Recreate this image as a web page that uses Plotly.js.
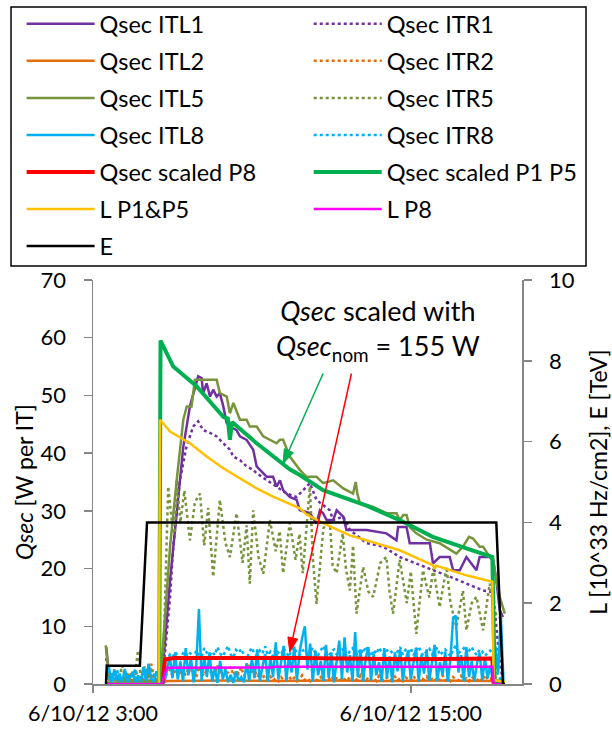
<!DOCTYPE html>
<html>
<head>
<meta charset="utf-8">
<script src="https://cdn.plot.ly/plotly-3.0.1.min.js"></script>
<style>html,body{margin:0;padding:0;background:#fff;}#chart{width:612px;height:729px;}</style>
</head>
<body>
<div id="chart"></div>
<script>
// ---------- DATA (hours of 6/10/12, values) ----------
const DAY = '2012-06-10';
const xTickVals = ['2012-06-10 03:00', '2012-06-10 15:00'];
const xTickText = ['6/10/12 3:00', '6/10/12 15:00'];

// Qsec ITL1 [W per IT]
const tITL1 = [3.50,3.56,3.62,4.50,5.50,5.65,5.91,6.16,6.41,6.66,6.91,6.97,7.10,7.16,7.29,7.42,7.54,7.67,7.79,7.92,8.05,8.17,8.42,8.55,8.80,9.05,9.18,9.30,9.56,9.80,9.93,10.06,10.18,10.43,10.69,10.81,11.19,11.44,11.57,11.69,11.82,11.94,12.07,12.20,12.45,12.57,13.33,14.08,14.46,14.52,14.84,14.96,15.72,15.84,16.09,16.47,16.60,16.85,17.10,17.48,17.60,17.98,18.11,18.23,18.36,18.48];
const vITL1 = [6.4,3.6,0.8,0.6,0.5,3.5,18,29.6,41.1,48.1,52.7,53.3,53.0,50.4,52.1,49.8,51.0,49.8,50.4,48.1,45.2,44.6,44.0,42.9,42.3,40.6,37.7,37.1,35.9,35.9,34.2,35.3,33.6,32.4,31.9,30.1,29.6,27.8,30.1,29.6,28.4,28.4,28.4,30.1,29.0,26.7,26.7,26.1,24.9,27.2,27.2,24.4,24.4,20.9,22.0,22.0,19.7,19.7,22.0,19.7,22.0,22.0,21.5,18.0,12.8,11.6];

// Qsec ITR1
const tITR1 = [3.50,3.58,4.50,5.55,5.65,5.91,6.03,6.28,6.53,6.78,6.97,7.16,7.42,7.67,7.92,8.17,8.30,8.55,8.80,9.05,9.18,9.55,9.93,10.31,10.69,11.19,11.44,11.94,12.07,12.45,12.70,13.33,13.96,14.58,15.21,15.84,16.47,17.10,17.73,18.11,18.36,18.48];
const vITR1 = [4.5,1.0,0.5,0.5,2.0,15.0,23.8,35.3,41.1,44.6,45.5,44.0,43.5,42.9,41.7,40.6,39.4,38.8,37.7,37.1,36.5,35.3,34.2,33.0,32.4,34.8,31.9,30.1,28.4,29.0,26.7,24.4,23.8,22.0,20.9,19.7,18.6,17.4,16.2,15.9,3.6,0.6];

// Qsec ITL2
const tITL2 = [3.50,5.60,5.80,8.00,10.00,12.00,14.00,16.00,18.10,18.20,18.55];
const vITL2 = [0.2,0.2,0.5,0.6,0.5,0.6,0.5,0.6,0.5,0.2,0.2];

// Qsec ITL5
const tITL5 = [3.48,3.55,3.62,4.50,5.50,5.59,5.91,6.16,6.41,6.54,6.72,6.85,7.67,7.79,8.05,8.17,8.30,8.55,8.80,8.92,9.18,9.43,9.68,9.93,10.06,10.18,10.43,10.69,10.81,11.06,11.44,11.69,12.07,12.45,12.82,12.92,12.98,13.08,13.58,14.08,14.46,14.58,14.72,14.84,14.96,15.21,15.60,16.09,16.72,16.97,17.20,17.35,17.60,17.73,17.98,18.11,18.23,18.36,18.55];
const vITL5 = [6.7,3.0,0.7,0.5,0.5,3.5,23.8,35.3,45.8,48.1,48.1,52.7,52.7,50.4,49.8,46.9,48.7,45.8,45.8,44.6,44.6,42.9,42.3,41.7,42.3,42.3,39.4,37.7,37.1,35.9,35.9,34.8,35.3,33.9,33.0,35.0,33.0,31.3,30.7,29.6,29.6,28.4,29.3,29.3,27.2,26.1,25.0,24.4,22.6,23.8,25.5,25.2,23.8,23.8,22.0,21.5,18.0,15.1,12.2];

// Qsec ITR5
const tITR5 = [3.50,3.65,3.80,3.95,4.10,4.25,4.40,4.55,4.70,4.80,4.95,5.10,5.25,5.40,5.55,5.65,5.84,6.00,6.09,6.16,6.30,6.45,6.66,6.85,7.04,7.20,7.35,7.54,7.79,8.00,8.17,8.42,8.65,8.80,8.92,9.05,9.25,9.43,9.68,9.90,10.05,10.18,10.43,10.65,10.80,10.92,11.19,11.30,11.44,11.70,11.94,12.05,12.20,12.43,12.55,12.70,12.82,12.95,13.20,13.40,13.58,13.85,14.08,14.20,14.33,14.58,14.85,15.00,15.21,15.46,15.70,15.85,16.09,16.35,16.50,16.72,16.97,17.10,17.30,17.48,17.73,17.98,18.10,18.23,18.48];
const vITR5 = [1.5,0.5,2.5,0.4,3.2,0.6,1.8,0.4,5.8,1.0,3.0,0.8,2.4,0.6,1.5,3.0,34.2,27.0,26.1,35.3,28.0,33.5,24.9,31.5,33.0,24.0,30.5,18.6,31.9,24.5,22.0,29.6,21.0,27.5,17.4,30.1,22.0,19.1,28.4,23.0,26.5,19.2,27.9,21.5,26.0,19.2,34.2,22.0,13.9,27.0,28.4,20.5,19.2,26.1,20.0,16.2,24.0,12.2,20.3,16.0,15.1,21.0,22.0,16.0,12.2,21.5,14.0,19.5,8.7,19.7,15.0,20.0,13.3,20.3,14.0,9.9,16.2,9.3,14.0,15.1,9.3,17.4,14.0,12.0,11.0];

// common sampling for the noisy channels (hours)
const tNoise = [
 3.5,3.6,3.7,3.8,3.9,4.0,4.1,4.2,4.3,4.4,
 4.5,4.6,4.7,4.8,4.9,5.0,5.1,5.2,5.3,5.4,
 5.5,5.6,5.7,5.8,5.9,6.0,6.1,6.2,6.3,6.4,
 6.5,6.6,6.7,6.8,6.9,7.0,7.1,7.2,7.3,7.4,
 7.5,7.6,7.7,7.8,7.9,8.0,8.1,8.2,8.3,8.4,
 8.5,8.6,8.7,8.8,8.9,9.0,9.1,9.2,9.3,9.4,
 9.5,9.6,9.7,9.8,9.9,10.0,10.1,10.2,10.3,10.4,
 10.5,10.6,10.7,10.8,10.9,11.0,11.1,11.2,11.3,11.4,
 11.5,11.6,11.7,11.8,11.9,12.0,12.1,12.2,12.3,12.4,
 12.5,12.6,12.7,12.8,12.9,13.0,13.1,13.2,13.3,13.4,
 13.5,13.6,13.7,13.8,13.9,14.0,14.1,14.2,14.3,14.4,
 14.5,14.6,14.7,14.8,14.9,15.0,15.1,15.2,15.3,15.4,
 15.5,15.6,15.7,15.8,15.9,16.0,16.1,16.2,16.3,16.4,
 16.5,16.6,16.7,16.8,16.9,17.0,17.1,17.2,17.3,17.4,
 17.5,17.6,17.7,17.8,17.9,18.0,18.1,18.2,18.3,18.4,
 18.5];

// Qsec ITR2
const vITR2 = [
 0.8,1.5,0.5,1.0,2.0,0.6,1.2,0.4,1.8,0.7,
 1.1,2.2,0.5,1.4,0.8,2.6,1.0,3.5,0.6,1.3,
 0.5,0.8,1.2,1.8,2.5,1.4,2.2,3.0,1.6,2.4,
 1.5,2.8,1.9,2.6,1.2,3.0,2.0,1.4,2.7,1.8,
 2.4,1.6,3.2,2.0,1.3,2.6,1.9,3.0,1.5,2.3,
 1.8,2.9,1.4,2.2,3.3,1.7,2.5,1.2,2.0,1.0,
 1.6,0.8,1.3,0.6,1.0,0.5,1.2,0.7,0.9,1.4,
 0.6,1.1,0.5,0.9,1.5,0.7,1.0,0.5,1.3,0.8,
 0.6,1.2,0.5,0.9,0.7,1.4,0.6,1.0,0.5,1.1,
 0.8,0.5,1.3,0.7,1.0,0.6,1.5,0.8,0.5,1.2,
 0.7,1.0,0.5,1.4,0.8,0.6,1.1,0.5,0.9,1.3,
 0.6,1.0,0.5,1.2,0.8,0.6,1.4,0.7,0.5,1.0,
 0.8,1.3,0.6,0.9,0.5,1.1,0.7,1.5,0.6,1.0,
 0.5,1.2,0.8,0.6,1.4,0.7,1.0,0.5,1.3,0.8,
 0.6,1.1,0.5,1.6,0.8,1.0,0.6,1.2,0.9,0.7,
 0.5];

// Qsec ITL8
const vITL8 = [
 1.5,2.9,0.3,2.4,0.5,1.8,0.2,2.6,0.4,1.2,
 2.1,0.3,1.5,0.2,2.9,0.6,3.5,1.0,0.3,2.2,
 0.5,0.2,0.3,2.5,4.8,1.0,5.5,0.8,3.9,0.4,
 6.2,1.5,4.5,0.3,3.2,13.0,0.5,4.8,1.2,5.5,
 0.4,2.8,0.2,4.0,0.8,2.5,0.3,1.6,0.2,2.2,
 0.5,1.2,0.3,3.6,0.6,4.4,1.0,6.0,0.5,3.0,
 5.2,0.4,4.6,1.2,7.2,0.8,3.5,6.6,0.5,4.9,
 2.0,6.5,0.6,5.5,8.0,10.0,2.5,7.0,0.4,5.8,
 1.5,4.0,0.5,6.8,1.0,5.5,0.3,4.2,7.5,0.8,
 8.1,2.0,5.0,0.5,9.0,1.2,6.0,0.4,4.5,6.4,
 0.6,5.2,1.5,3.8,0.4,6.2,1.0,4.8,0.3,5.5,
 2.2,6.0,0.5,4.0,5.8,0.8,3.5,6.3,0.4,5.0,
 1.8,6.0,0.6,4.2,6.8,0.5,3.8,1.5,5.6,0.4,
 4.5,11.5,11.8,2.0,5.0,0.5,6.4,1.2,4.0,0.4,
 3.6,5.4,0.6,4.5,1.0,3.2,0.5,6.5,2.0,12.0,
 0.5];

// Qsec ITR8
const vITR8 = [
 2.2,1.0,1.8,0.8,2.5,1.2,0.6,1.5,2.0,0.9,
 1.4,2.6,1.1,0.7,1.9,1.3,2.4,0.8,1.6,1.0,
 0.6,1.2,3.0,4.2,5.1,4.6,5.5,5.0,4.4,5.3,
 4.8,5.6,5.2,4.5,5.8,5.1,4.7,6.2,5.4,4.9,
 5.6,5.0,6.4,5.3,4.8,5.7,6.6,5.1,4.6,5.9,
 5.4,6.1,5.0,4.3,5.5,6.3,5.2,4.9,5.8,5.3,
 6.5,5.0,5.6,4.8,6.0,5.4,5.1,6.2,5.5,4.7,
 5.9,6.4,5.2,5.0,5.7,6.1,4.9,5.5,6.3,5.3,
 5.0,5.8,6.6,5.4,4.8,5.6,6.0,5.1,5.9,6.4,
 5.2,4.9,5.7,6.2,5.5,5.0,6.1,5.3,6.5,5.6,
 4.8,5.9,5.2,6.3,5.5,5.0,5.8,6.0,5.3,4.7,
 5.6,6.4,5.1,5.9,5.4,6.2,5.0,5.7,6.5,5.3,
 4.9,5.8,6.1,5.2,5.6,6.3,5.0,5.5,6.0,5.4,
 4.8,5.9,6.7,5.3,5.7,6.2,5.1,5.8,6.4,5.5,
 5.0,6.0,5.6,4.9,5.3,5.8,5.2,3.5,1.5,0.8,
 0.4];

// Qsec scaled P8
const tScP8 = [3.49,5.62,5.72,6.09,10.81,15.00,18.08,18.13,18.55];
const vScP8 = [0,0,4.3,4.5,4.5,4.3,4.4,0.1,0];

// Qsec scaled P1 P5
const tScP15 = [3.49,5.50,5.55,6.03,6.91,7.92,8.09,8.17,8.25,9.18,10.43,10.81,11.69,12.70,13.33,14.58,15.83,17.10,18.08,18.17,18.55];
const vScP15 = [0,0,59.5,55.0,51.6,46.3,46.0,42.3,45.4,41.7,37.2,36.2,33.6,32.0,30.9,28.4,25.5,23.5,22.0,0.6,0.2];

// L P1&P5 [10^33 Hz/cm2]
const tLP15 = [3.49,5.49,5.53,5.91,6.66,7.29,7.92,8.55,9.18,9.80,10.43,10.81,11.06,11.69,12.70,13.33,14.58,15.83,15.90,15.95,17.10,18.08,18.13,18.55];
const vLP15 = [0,0,6.54,6.25,5.96,5.63,5.34,5.09,4.84,4.64,4.45,4.35,4.20,3.98,3.68,3.56,3.31,2.94,2.86,2.93,2.69,2.53,0.1,0.05];

// L P8
const tLP8 = [3.49,5.59,5.78,9.80,9.85,18.08,18.13,18.55];
const vLP8 = [0,0,0.40,0.41,0.43,0.43,0,0];

// E [TeV]
const tE = [3.49,3.52,4.77,5.04,18.23,18.48,18.55];
const vE = [0,0.45,0.45,4.0,4.0,0,0];

// ---------- helpers ----------
function toDate(h) {
  const s = Math.round(h * 3600);
  const hh = Math.floor(s / 3600), mm = Math.floor((s % 3600) / 60), ss = s % 60;
  const p = n => String(n).padStart(2, '0');
  return DAY + ' ' + p(hh) + ':' + p(mm) + ':' + p(ss);
}
function tr(name, t, v, color, width, dash, yaxis, legend) {
  return {
    type: 'scatter', mode: 'lines', name: name,
    x: t.map(toDate), y: v,
    line: {color: color, width: width, dash: dash || 'solid'},
    yaxis: yaxis, legend: legend, legendgroup: name,
    hoverinfo: 'skip'
  };
}

const C_PURPLE = '#7030A0', C_ORANGE = '#E46C0A', C_OLIVE = '#77933C', C_BLUE = '#00B0F0';
const C_RED = '#FF0000', C_GREEN = '#00B050', C_YELLOW = '#FFC000', C_MAG = '#FF00FF', C_BLACK = '#000000';

const traces = [
  tr('Qsec ITL1', tITL1, vITL1, C_PURPLE, 2.5, 'solid', 'y', 'legend'),
  tr('Qsec ITR1', tITR1, vITR1, C_PURPLE, 2.5, 'dot', 'y', 'legend2'),
  tr('Qsec ITL2', tITL2, vITL2, C_ORANGE, 2.5, 'solid', 'y', 'legend'),
  tr('Qsec ITR2', tNoise, vITR2, C_ORANGE, 2.5, 'dot', 'y', 'legend2'),
  tr('Qsec ITL5', tITL5, vITL5, C_OLIVE, 2.5, 'solid', 'y', 'legend'),
  tr('Qsec ITR5', tITR5, vITR5, C_OLIVE, 2.5, 'dot', 'y', 'legend2'),
  tr('Qsec ITL8', tNoise, vITL8, C_BLUE, 2.5, 'solid', 'y', 'legend'),
  tr('Qsec ITR8', tNoise, vITR8, C_BLUE, 2.5, 'dot', 'y', 'legend2'),
  tr('Qsec scaled P8', tScP8, vScP8, C_RED, 4, 'solid', 'y', 'legend'),
  tr('Qsec scaled P1 P5', tScP15, vScP15, C_GREEN, 4, 'solid', 'y', 'legend2'),
  tr('L P1&P5', tLP15, vLP15, C_YELLOW, 2.5, 'solid', 'y2', 'legend'),
  tr('L P8', tLP8, vLP8, C_MAG, 2.5, 'solid', 'y2', 'legend2'),
  tr('E', tE, vE, C_BLACK, 2.5, 'solid', 'y2', 'legend')
];

const FONT = 'Lato, "Open Sans", sans-serif';
const AXC = '#868686';
const legendCommon = {
  orientation: 'v', yanchor: 'top', xanchor: 'left', y: 1.688,
  bgcolor: 'rgba(0,0,0,0)', borderwidth: 0,
  font: {family: FONT, size: 23.5, color: '#000'},
  itemwidth: 68, tracegroupgap: 3.5, traceorder: 'grouped'
};

// annotation arrows (tail -> head), hours / W
function arrowShapes(t0, y0, t1, y1, headPath, color) {
  return [
    {type: 'line', xref: 'x', yref: 'y', x0: toDate(t0), y0: y0, x1: toDate(t1), y1: y1,
     line: {color: color, width: 1.5}, layer: 'above'},
    {type: 'path', xref: 'x', yref: 'y', xsizemode: 'pixel', ysizemode: 'pixel',
     xanchor: toDate(t1), yanchor: y1, path: headPath,
     fillcolor: color, line: {color: color, width: 1}, layer: 'above'}
  ];
}

const layout = {
  width: 612, height: 729,
  margin: {l: 93, r: 90, t: 280, b: 45, pad: 0, autoexpand: false},
  paper_bgcolor: '#fff', plot_bgcolor: '#fff',
  font: {family: FONT, size: 22, color: '#000'},
  showlegend: true,
  hovermode: false,
  legend: Object.assign({}, legendCommon, {x: -0.1664}),
  legend2: Object.assign({}, legendCommon, {x: 0.5028}),
  xaxis: {
    type: 'date', range: ['2012-06-10 03:00', '2012-06-10 19:12'],
    tickvals: xTickVals, ticktext: xTickText,
    ticks: 'outside', ticklen: 7, tickwidth: 1.5, tickcolor: AXC,
    showline: true, linecolor: AXC, linewidth: 1.5,
    showgrid: false, zeroline: false,
    tickfont: {family: FONT, size: 21.5, color: '#000'},
    ticklabelstandoff: 3
  },
  yaxis: {
    range: [0, 70], tickmode: 'linear', tick0: 0, dtick: 10,
    ticks: 'outside', ticklen: 8, tickwidth: 1.5, tickcolor: AXC,
    showline: true, linecolor: AXC, linewidth: 1.5,
    showgrid: false, zeroline: false,
    tickfont: {family: FONT, size: 22, color: '#000'},
    ticklabelstandoff: 13,
    title: {text: '<i>Qsec</i> [W per IT]', font: {family: FONT, size: 23, color: '#000'}, standoff: 0}
  },
  yaxis2: {
    overlaying: 'y', side: 'right',
    range: [0, 10], tickmode: 'linear', tick0: 0, dtick: 2,
    ticks: 'outside', ticklen: 8, tickwidth: 1.5, tickcolor: AXC,
    showline: true, linecolor: AXC, linewidth: 1.5,
    showgrid: false, zeroline: false,
    tickfont: {family: FONT, size: 22, color: '#000'},
    ticklabelstandoff: 13,
    title: {text: 'L [10^33 Hz/cm2], E [TeV]', font: {family: FONT, size: 23, color: '#000'}, standoff: 19}
  },
  shapes: [{
    type: 'rect', xref: 'paper', yref: 'paper',
    x0: -0.1911, x1: 1.1492, y0: 1.0347, y1: 1.6758,
    line: {color: '#000', width: 1.5}, fillcolor: 'rgba(0,0,0,0)', layer: 'above'
  }].concat(
    arrowShapes(11.69, 53.8, 10.18, 38.2, 'M0,0L10.27,10.77L1.13,14.83Z', C_GREEN),
    arrowShapes(12.76, 53.8, 10.43, 5.6, 'M0,0L7.91,12.58L-1.85,14.74Z', C_RED)
  ),
  annotations: [
    {
      xref: 'paper', yref: 'paper', x: 0.6643, y: 0.876,
      xanchor: 'center', yanchor: 'middle', align: 'center', showarrow: false,
      text: '<i>Qsec</i> scaled with<br><i>Qsec</i><sub>nom</sub> = 155 W',
      font: {family: FONT, size: 27, color: '#000'}
    }
  ]
};

Plotly.newPlot('chart', traces, layout, {staticPlot: true, displayModeBar: false});
</script>
</body>
</html>
